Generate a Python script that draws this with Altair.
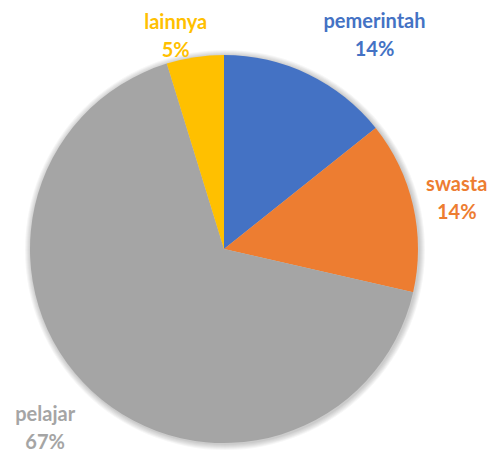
import math
import altair as alt
import pandas as pd

categories = ["pemerintah", "swasta", "pelajar", "lainnya"]
counts = [3, 3, 14, 1]
pct_labels = ["14%", "14%", "67%", "5%"]
colors = ["#4472C4", "#ED7D31", "#A5A5A5", "#FFC000"]

# label placement tweaks (degrees shift from slice mid-angle, radius in px)
label_shift = [9.5, 0.8, 1.9, -4.3]
label_radius = [261, 238, 254, 217]

W, H = 480, 447
CX, CY, R = 216, 241, 194
LH = 28

df = pd.DataFrame({
    "category": categories,
    "count": counts,
    "order": list(range(len(categories))),
})

total = sum(counts)
lx, ly, txt = [], [], []
cum = 0
for i, c in enumerate(counts):
    mid = (cum + c / 2) / total * 360 + label_shift[i]
    cum += c
    a = math.radians(mid)
    lx.append(CX + label_radius[i] * math.sin(a))
    ly.append(CY - label_radius[i] * math.cos(a))
    txt.append(categories[i] + "\n" + pct_labels[i])
lab = pd.DataFrame({"category": categories, "x": lx, "y": ly, "txt": txt})

color_scale = alt.Scale(domain=categories, range=colors)

# soft shadow rings
shadows = []
for k in range(1, 7):
    shadows.append(
        alt.Chart(df).mark_arc(radius=R + k, color="black", opacity=0.035).encode(
            theta=alt.Theta("sum(count):Q"),
            x=alt.value(CX + 1),
            y=alt.value(CY + 1),
        )
    )

pie = alt.Chart(df).mark_arc(radius=R).encode(
    theta=alt.Theta("count:Q", stack=True),
    order=alt.Order("order:Q"),
    color=alt.Color("category:N", scale=color_scale, legend=None),
    x=alt.value(CX),
    y=alt.value(CY),
)

labels = alt.Chart(lab).mark_text(
    font="Lato", fontWeight="bold", fontSize=20, lineBreak="\n",
    lineHeight=LH, align="center", baseline="middle", dy=-LH / 2
).encode(
    x=alt.X("x:Q", scale=None),
    y=alt.Y("y:Q", scale=None),
    text="txt:N",
    color=alt.Color("category:N", scale=color_scale, legend=None),
)

chart = alt.layer(*shadows, pie, labels).properties(
    width=W, height=H, autosize=alt.AutoSizeParams(type="none"), padding=0
).configure_view(stroke=None)

chart.save("out.html", embed_options={"renderer": "svg", "actions": False})
